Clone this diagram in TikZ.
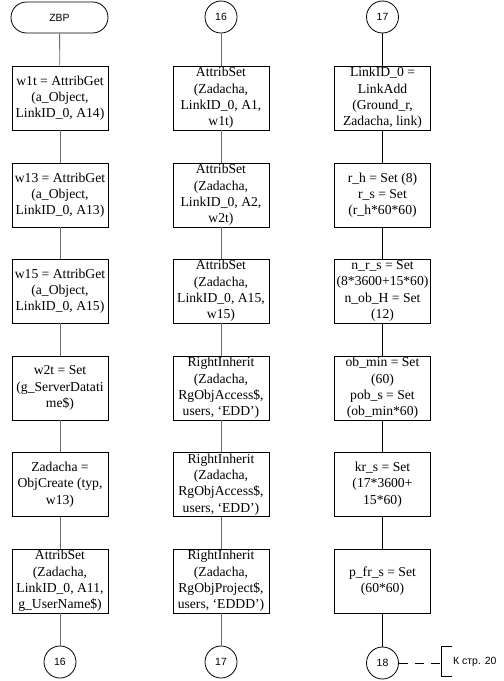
\documentclass[tikz,border=0pt]{standalone}
\usepackage{fontspec}
\setmainfont{Liberation Serif}
\newfontfamily\arialf{Liberation Sans}
\usetikzlibrary{shapes.misc}
\begin{document}
\begin{tikzpicture}[x=1bp,y=-1bp,
  proc/.style={draw=black, line width=0.8bp, rectangle, minimum width=96bp, minimum height=64bp,
    inner sep=0pt, align=center, font=\fontsize{13.7}{16.3}\selectfont},
  conn/.style={draw=black, line width=0.8bp, circle, minimum size=32bp, inner sep=0pt,
    font=\arialf\fontsize{10.5}{12}\selectfont},
  term/.style={draw=black, line width=0.8bp, rounded rectangle, minimum width=97bp, minimum height=31bp,
    inner sep=0pt, font=\arialf\fontsize{10.5}{12}\selectfont},
  gline/.style={draw=gray!85!black, line width=0.9bp},
  bline/.style={draw=black, line width=0.9bp}]
\useasboundingbox (0,0) rectangle (504,681);
% column 1
\node[term] (zbp) at (59.5,17.5) {ZBP};
\node[proc] (a1) at (60,98) {w1t = AttribGet\\(a\_Object,\\LinkID\_0, A14)};
\node[proc] (a2) at (60,195) {w13 = AttribGet\\(a\_Object,\\LinkID\_0, A13)};
\node[proc] (a3) at (60,291) {w15 = AttribGet\\(a\_Object,\\LinkID\_0, A15)};
\node[proc] (a4) at (60,388) {w2t = Set\\(g\_ServerDatati\\me\$)};
\node[proc] (a5) at (60,484.5) {Zadacha =\\ObjCreate (typ,\\w13)};
\node[proc] (a6) at (60,581) {AttribSet\\(Zadacha,\\LinkID\_0, A11,\\g\_UserName\$)};
\node[conn] (c16a) at (60,662) {16};
% column 2
\node[conn] (c16b) at (221,17) {16};
\node[proc] (b1) at (221,98) {AttribSet\\(Zadacha,\\LinkID\_0, A1,\\w1t)};
\node[proc] (b2) at (221,195) {AttribSet\\(Zadacha,\\LinkID\_0, A2,\\w2t)};
\node[proc] (b3) at (221,291) {AttribSet\\(Zadacha,\\LinkID\_0, A15,\\w15)};
\node[proc] (b4) at (221,388) {RightInherit\\(Zadacha,\\RgObjAccess\$,\\users, `EDD')};
\node[proc] (b5) at (221,484.5) {RightInherit\\(Zadacha,\\RgObjAccess\$,\\users, `EDD')};
\node[proc] (b6) at (221,581) {RightInherit\\(Zadacha,\\RgObjProject\$,\\users, `EDDD')};
\node[conn] (c17b) at (221,662) {17};
% column 3
\node[conn] (c17c) at (382.5,17) {17};
\node[proc] (d1) at (382.5,98) {LinkID\_0 =\\LinkAdd\\(Ground\_r,\\Zadacha, link)};
\node[proc] (d2) at (382.5,195) {r\_h = Set (8)\\r\_s = Set\\(r\_h*60*60)};
\node[proc] (d3) at (382.5,291) {n\_r\_s = Set\\(8*3600+15*60)\\n\_ob\_H = Set\\(12)};
\node[proc] (d4) at (382.5,388) {ob\_min = Set\\(60)\\pob\_s = Set\\(ob\_min*60)};
\node[proc] (d5) at (382.5,484.5) {kr\_s = Set\\(17*3600+\\15*60)};
\node[proc] (d6) at (382.5,581) {p\_fr\_s = Set\\(60*60)};
\node[conn] (c18) at (382.5,663) {18};
% connectors
\draw[gline] (zbp) -- (a1);
\draw[gline] (a1) -- (a2);
\draw[gline] (a2) -- (a3);
\draw[gline] (a3) -- (a4);
\draw[gline] (a4) -- (a5);
\draw[gline] (a5) -- (a6);
\draw[gline] (a6) -- (c16a);
\draw[gline] (c16b) -- (b1);
\draw[gline] (b1) -- (b2);
\draw[gline] (b2) -- (b3);
\draw[gline] (b3) -- (b4);
\draw[gline] (b4) -- (b5);
\draw[gline] (b5) -- (b6);
\draw[gline] (b6) -- (c17b);
\draw[bline] (c17c) -- (d1);
\draw[bline] (d1) -- (d2);
\draw[bline] (d2) -- (d3);
\draw[bline] (d3) -- (d4);
\draw[bline] (d4) -- (d5);
\draw[bline] (d5) -- (d6);
\draw[bline] (d6) -- (c18);
% annotation
\coordinate (brk) at (441,663);
\draw[black, line width=0.8bp, dash pattern=on 9bp off 7bp] (c18) -- (brk);
\draw[black, line width=0.8bp] (452,646.5) -- (441,646.5) -- (441,676.5) -- (452,676.5);
\node[anchor=west, inner sep=0pt, font=\arialf\fontsize{10.5}{12}\selectfont] (note) at (453,662) {К стр. 20};
\end{tikzpicture}
\end{document}
